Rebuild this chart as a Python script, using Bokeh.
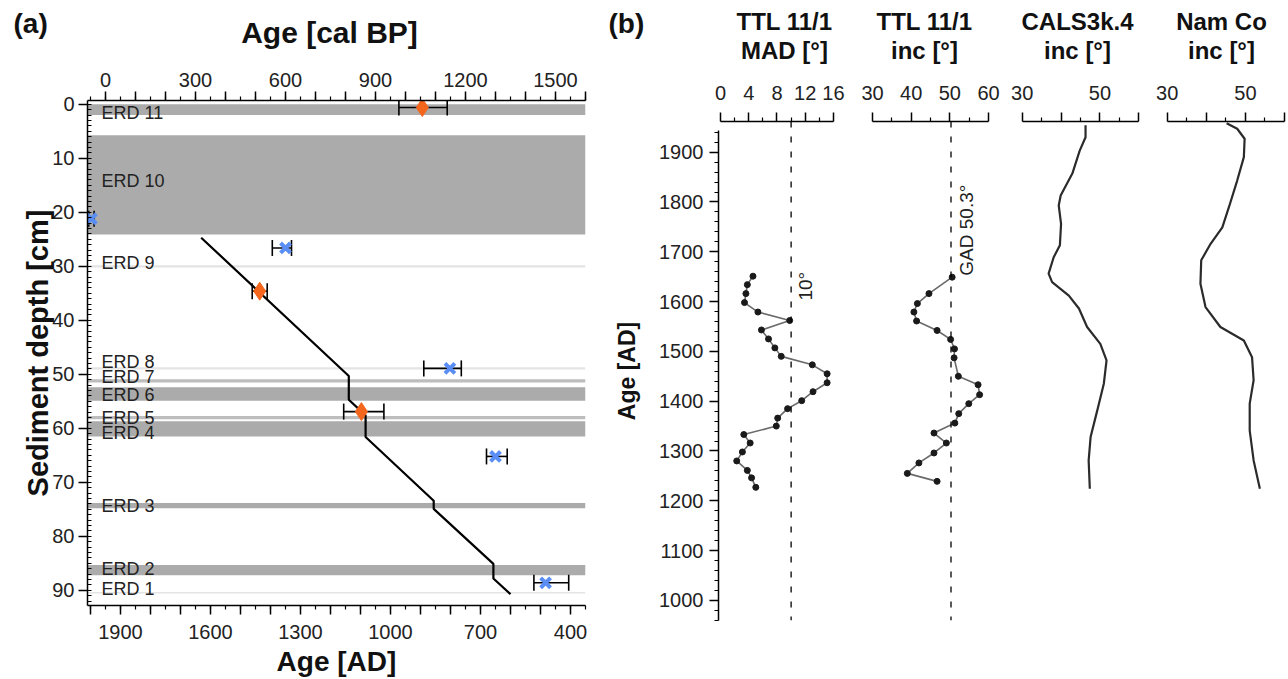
import math
from bokeh.plotting import figure
from bokeh.models import Range1d, LinearAxis, FixedTicker, Span
from bokeh.layouts import row, column
from bokeh.embed import file_html
from bokeh.resources import INLINE
from bokeh.core.properties import value

FONT = "Liberation Sans"

# ---------------- Panel (a) data ----------------
erd_names = ["ERD 11", "ERD 10", "ERD 9", "ERD 8", "ERD 7", "ERD 6", "ERD 5", "ERD 4", "ERD 3", "ERD 2", "ERD 1"]
erd_top = [0.0, 5.75, 29.8, 48.7, 50.9, 52.4, 57.7, 58.7, 73.8, 85.3, 90.3]
erd_bottom = [2.0, 24.1, 30.2, 49.1, 51.5, 54.9, 58.3, 61.5, 74.8, 87.2, 90.6]
erd_label_depth = [1.6, 14.2, 29.3, 47.8, 50.5, 53.9, 58.1, 60.9, 74.4, 86.1, 89.8]

model_age = [1631, 1139, 1139, 1083, 1083, 856, 856, 657, 657, 600]
model_depth = [24.7, 50.3, 54.7, 57.6, 61.6, 73.4, 74.9, 85.1, 87.8, 90.7]

c14_depth = [0.6, 34.6, 56.9]
c14_age = [894, 1436, 1097]
c14_lo = [811, 1411, 1022]
c14_hi = [972, 1461, 1156]

rej_depth = [21.2, 26.6, 48.9, 65.2, 88.6]
rej_age = [1997, 1350, 802, 650, 483]
rej_lo = [1988, 1330, 764, 611, 406]
rej_hi = [2006, 1394, 889, 680, 522]

bp_ticks = list(range(0, 1601, 100))
bp_minor = list(range(-50, 1601, 50))
bp_labels = [0, 300, 600, 900, 1200, 1500]
ad_ticks = list(range(400, 2001, 100))
ad_minor = list(range(350, 2011, 50))
ad_labels = [1900, 1600, 1300, 1000, 700, 400]
depth_ticks = list(range(0, 91, 10))
depth_minor = list(range(0, 93, 1))

# ---------------- Panel (b) data ----------------
mad_age = [1651, 1634, 1616, 1598, 1579, 1562, 1543, 1525, 1507, 1490, 1473, 1455, 1437,
           1419, 1401, 1385, 1366, 1350, 1333, 1316, 1298, 1280, 1261, 1246, 1227]
mad_val = [4.6, 3.8, 3.6, 3.4, 5.3, 9.8, 5.8, 6.8, 7.7, 8.6, 13.0, 15.1, 15.1,
           13.1, 11.5, 9.5, 8.1, 7.9, 3.3, 4.2, 3.1, 2.3, 3.8, 4.4, 5.0]

inc_age = [1649, 1616, 1596, 1579, 1561, 1542, 1524, 1505, 1487, 1450, 1433,
           1413, 1395, 1375, 1356, 1336, 1316, 1296, 1276, 1255, 1239]
inc_val = [50.6, 44.6, 41.6, 40.7, 41.4, 46.7, 50.2, 51.2, 51.1, 52.2, 57.3,
           57.7, 54.9, 52.3, 51.3, 45.9, 49.1, 45.9, 42.0, 39.0, 46.7]

cals_age = [1954, 1930, 1903, 1857, 1813, 1793, 1756, 1713, 1689, 1656, 1639, 1612,
            1586, 1549, 1515, 1482, 1435, 1381, 1328, 1281, 1224]
cals_val = [46.3, 46.3, 44.8, 42.9, 39.9, 39.4, 40.0, 39.7, 38.1, 36.8, 37.7, 42.0,
            44.6, 46.7, 50.1, 51.7, 51.0, 49.3, 47.6, 47.1, 47.4]

nam_age = [1958, 1947, 1927, 1890, 1843, 1790, 1749, 1716, 1683, 1636, 1589, 1549,
           1522, 1488, 1442, 1395, 1341, 1281, 1224]
nam_val = [45.2, 47.9, 49.8, 49.6, 47.9, 45.8, 44.1, 41.1, 38.7, 38.5, 39.8, 43.6,
           49.6, 51.7, 52.1, 51.1, 51.1, 52.1, 53.7]

mad_threshold = 10
gad_inc = 50.3

age_ticks = list(range(1000, 1901, 100))
age_minor = list(range(960, 1945, 20))

strip_titles = [("TTL 11/1", "MAD [°]"), ("TTL 11/1", "inc [°]"),
                ("CALS3k.4", "inc [°]"), ("Nam Co", "inc [°]")]


def style_axis(ax, tick_size="20px", title_size="28px"):
    ax.axis_line_color = "black"
    ax.axis_line_width = 1.5
    ax.major_tick_line_color = "black"
    ax.major_tick_line_width = 1.5
    ax.minor_tick_line_color = "black"
    ax.minor_tick_line_width = 1.2
    ax.major_tick_in = 0
    ax.major_tick_out = 9
    ax.minor_tick_in = 0
    ax.minor_tick_out = 4
    ax.major_label_text_font = FONT
    ax.major_label_text_font_size = tick_size
    ax.major_label_text_color = "#222222"
    ax.axis_label_text_font = FONT
    ax.axis_label_text_font_style = "bold"
    ax.axis_label_text_font_size = title_size
    ax.axis_label_text_color = "#111111"


def base_fig(width, height, x_range, y_range, left, right, top, bottom):
    f = figure(width=width, height=height, x_range=x_range, y_range=y_range,
               output_backend="svg", toolbar_location=None,
               x_axis_location=None, y_axis_location=None,
               min_border_left=left, min_border_right=right,
               min_border_top=top, min_border_bottom=bottom)
    f.outline_line_color = None
    f.grid.visible = False
    f.background_fill_color = "white"
    f.border_fill_color = "white"
    return f


def header(width, height):
    return base_fig(width, height, Range1d(0, width), Range1d(height, 0), 0, 0, 0, 0)


def htext(f, x, y, txt, size, bold=True, align="center"):
    f.text(x=[x], y=[y], text=[txt], text_font=value(FONT), text_font_size=size,
           text_font_style="bold" if bold else "normal", text_color="#111111",
           text_align=align, text_baseline="middle")


# ---------------- Panel (a) ----------------
HA = 55
ha = header(600, HA)
htext(ha, 13, 23, "(a)", "28px", align="left")
htext(ha, 329, 32, "Age [cal BP]", "30px")

pa = base_fig(600, 679 - HA, Range1d(2010, 350), Range1d(92.8, -0.7), 87, 15, 100 - HA, 74)
pa.extra_x_ranges = {"bp": Range1d(-60, 1600)}

thick = [b - t for t, b in zip(erd_top, erd_bottom)]
band_colors = ["#e4e4e4" if d < 0.5 else ("#bdbdbd" if d < 0.8 else "#ababab") for d in thick]
pa.quad(left=2010, right=350, top=erd_top, bottom=erd_bottom, fill_color=band_colors,
        line_color=None)

pa.text(x=[1963] * len(erd_names), y=erd_label_depth, text=erd_names,
        text_font=value(FONT), text_font_size="18px", text_color="#222222",
        text_baseline="middle", text_align="left")

pa.line(model_age, model_depth, line_color="black", line_width=2.2)

for lo, hi, d in ((c14_lo, c14_hi, c14_depth), (rej_lo, rej_hi, rej_depth)):
    pa.segment(x0=lo, x1=hi, y0=d, y1=d, line_color="black", line_width=1.6)
    pa.scatter(x=lo + hi, y=d + d, marker="dash", angle=math.pi / 2, size=16,
               line_color="black", line_width=1.6)

pa.scatter(c14_age, c14_depth, marker="diamond", size=18, fill_color="#f4661b",
           line_color="#f4661b")
pa.scatter(rej_age, rej_depth, marker="x", size=14, line_color="#5a8ef5", line_width=4)

ax_left = LinearAxis(axis_label="Sediment depth [cm]",
                     ticker=FixedTicker(ticks=depth_ticks, minor_ticks=depth_minor))
style_axis(ax_left, title_size="29px")
ax_left.minor_tick_in = 4
ax_left.minor_tick_out = 0
ax_left.major_label_standoff = 4
ax_left.axis_label_standoff = -5
pa.add_layout(ax_left, "left")

ax_top = LinearAxis(x_range_name="bp",
                    ticker=FixedTicker(ticks=bp_ticks, minor_ticks=bp_minor))
ax_top.major_label_overrides = {t: "" for t in bp_ticks if t not in bp_labels}
style_axis(ax_top)
ax_top.major_label_standoff = 5
pa.add_layout(ax_top, "above")

ax_bot = LinearAxis(axis_label="Age [AD]",
                    ticker=FixedTicker(ticks=ad_ticks, minor_ticks=ad_minor))
ax_bot.major_label_overrides = {t: "" for t in ad_ticks if t not in ad_labels}
style_axis(ax_bot)
ax_bot.major_label_standoff = 10
ax_bot.axis_label_standoff = 4
pa.add_layout(ax_bot, "below")

# ---------------- Panel (b) ----------------
HB = 70
hb = header(688, HB)
htext(hb, 8, 23, "(b)", "28px", align="left")
for cx, (l1, l2) in zip([184, 324, 477, 621], strip_titles):
    htext(hb, cx, 21, l1, "24px")
    htext(hb, cx, 50, l2, "24px")

yr = Range1d(959.6, 1961.6)


def strip(width, xr, left, bounds, ticks, minor, labels):
    f = base_fig(width, 679 - HB, xr, yr, left, 0, 121 - HB, 59)
    ax = LinearAxis(bounds=bounds, ticker=FixedTicker(ticks=ticks, minor_ticks=minor))
    ax.major_label_overrides = {t: "" for t in ticks if t not in labels}
    style_axis(ax, tick_size="20px")
    ax.major_label_standoff = 13
    f.add_layout(ax, "above")
    return f


s1 = strip(250, Range1d(-0.283, 18.41), 118, (0, 16),
           [0, 4, 8, 12, 16], [2, 6, 10, 14], [0, 4, 8, 12, 16])
s2 = strip(150, Range1d(24.31, 63.1), 0, (30, 60),
           [30, 40, 50, 60], [35, 45, 55], [30, 40, 50, 60])
s3 = strip(150, Range1d(24.42, 63.01), 0, (30, 60),
           [30, 40, 50, 60], [35, 45, 55], [30, 50])
s4 = strip(138, Range1d(25.73, 61.02), 0, (30, 60),
           [30, 40, 50, 60], [35, 45, 55], [30, 50])

ax_age = LinearAxis(axis_label="Age [AD]", bounds=(960, 1943),
                    ticker=FixedTicker(ticks=age_ticks, minor_ticks=age_minor))
style_axis(ax_age, tick_size="20px", title_size="23px")
ax_age.major_label_standoff = 6
ax_age.axis_label_standoff = 16
s1.add_layout(ax_age, "left")

s1.add_layout(Span(location=mad_threshold, dimension="height", line_color="black",
                   line_width=1.3, line_dash="6 9"))
s2.add_layout(Span(location=gad_inc, dimension="height", line_color="black",
                   line_width=1.3, line_dash="6 9"))

s1.line(mad_val, mad_age, line_color="#6a6a6a", line_width=1.6)
s1.scatter(mad_val, mad_age, size=6, fill_color="#1a1a1a", line_color="#1a1a1a")
s2.line(inc_val, inc_age, line_color="#6a6a6a", line_width=1.6)
s2.scatter(inc_val, inc_age, size=6, fill_color="#1a1a1a", line_color="#1a1a1a")
s3.line(cals_val, cals_age, line_color="#2b2b2b", line_width=2.2)
s4.line(nam_val, nam_age, line_color="#2b2b2b", line_width=2.2)

s1.text(x=[12.0], y=[1602], text=["10°"], angle=math.pi / 2, text_font=value(FONT),
        text_font_size="19px", text_baseline="middle", text_align="left", text_color="#222222")
s2.text(x=[54.3], y=[1652], text=["GAD 50.3°"], angle=math.pi / 2, text_font=value(FONT),
        text_font_size="19px", text_baseline="middle", text_align="left", text_color="#222222")

left_col = column(ha, row(pa, spacing=0), spacing=0)
right_col = column(hb, row(s1, s2, s3, s4, spacing=0), spacing=0)
layout = row(left_col, right_col, spacing=0)
open("out.html", "w").write(file_html(layout, INLINE))
